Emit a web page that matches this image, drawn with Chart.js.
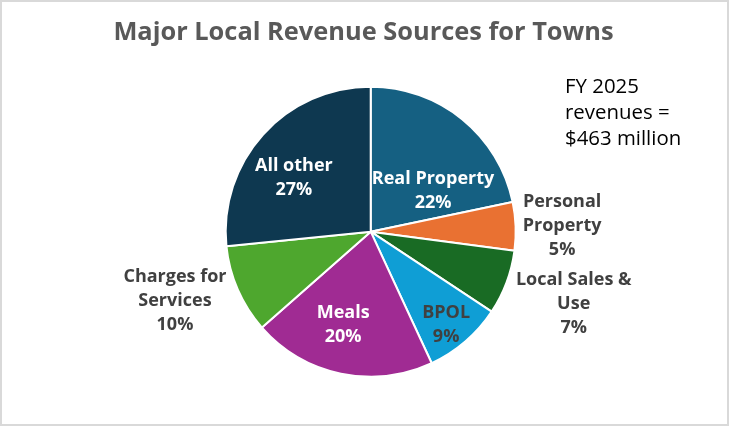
<!DOCTYPE html>
<html>
<head>
<meta charset="utf-8">
<script src="https://cdn.jsdelivr.net/npm/chart.js@4.4.0/dist/chart.umd.min.js"></script>
<style>
  html, body { margin: 0; padding: 0; background: #fff; }
  #box {
    position: absolute; left: 0; top: 0;
    width: 729px; height: 426px;
    box-sizing: border-box;
    border: 2px solid #d9d9d9;
    background: #fff;
  }
  #box canvas { display: block; }
</style>
</head>
<body>
<div id="box"><canvas id="revenue-pie" width="725" height="422"></canvas></div>
<script>
// Sources de revenus locaux, FY 2025 (millions $)
const categories = ['Real Property', 'Personal Property', 'Local Sales & Use', 'BPOL', 'Meals', 'Charges for Services', 'All other'];
const revenue = [100.5, 25.0, 33.3, 40.7, 94.5, 45.8, 123.2];
const labelLines = [['Real Property'], ['Personal', 'Property'], ['Local Sales &', 'Use'], ['BPOL'], ['Meals'], ['Charges for', 'Services'], ['All other']];
const noteLines = ['FY 2025', 'revenues =', '$463 million'];
const chartTitle = 'Major Local Revenue Sources for Towns';

const colors = ['#156082', '#e97132', '#196b24', '#0f9ed5', '#a02b93', '#4ea72e', '#0e3850'];

// label placement, in units of the pie radius from its centre
const labelPos = [[0.43, -0.28], [1.32, -0.04], [1.40, 0.50], [0.52, 0.64], [-0.19, 0.64], [-1.35, 0.48], [-0.53, -0.37]];
const labelColor = ['#fff', '#404040', '#404040', '#404040', '#fff', '#404040', '#fff'];

const total = revenue.reduce((a, b) => a + b, 0);
const pct = revenue.map(v => Math.round(v / total * 100) + '%');

const FONT = '"Open Sans", Lato, sans-serif';

const textPlugin = {
  id: 'textPlugin',
  afterDraw(chart) {
    const c = chart.ctx;
    c.save();
    // titre
    c.fillStyle = '#595959';
    c.font = 'bold 25.4px ' + FONT;
    c.textAlign = 'center';
    c.textBaseline = 'middle';
    c.fillText(chartTitle, 361.5, 31);

    // etiquettes des parts
    const arcs = chart.getDatasetMeta(0).data;
    arcs.forEach((arc, i) => {
      const r = arc.outerRadius;
      const x = arc.x + labelPos[i][0] * r;
      const y = arc.y + labelPos[i][1] * r;
      const lines = labelLines[i].concat([pct[i]]);
      const lh = 24;
      c.fillStyle = labelColor[i];
      c.font = 'bold 18px ' + FONT;
      lines.forEach((t, k) => {
        c.fillText(t, x, y + (k - (lines.length - 1) / 2) * lh);
      });
    });

    // note
    c.fillStyle = '#000';
    c.font = '20.4px ' + FONT;
    c.textAlign = 'left';
    noteLines.forEach((t, k) => c.fillText(t, 563, 85 + k * 26));
    c.restore();
  }
};

new Chart(document.getElementById('revenue-pie'), {
  type: 'pie',
  data: {
    labels: categories,
    datasets: [{
      data: revenue,
      backgroundColor: colors,
      borderColor: '#ffffff',
      borderWidth: 2
    }]
  },
  options: {
    responsive: false,
    animation: false,
    layout: {
      padding: { top: 83.7, bottom: 46.3, left: 222.7, right: 210.3 }
    },
    plugins: {
      legend: { display: false },
      tooltip: { enabled: false },
      title: { display: false }
    }
  },
  plugins: [textPlugin]
});
</script>
</body>
</html>
